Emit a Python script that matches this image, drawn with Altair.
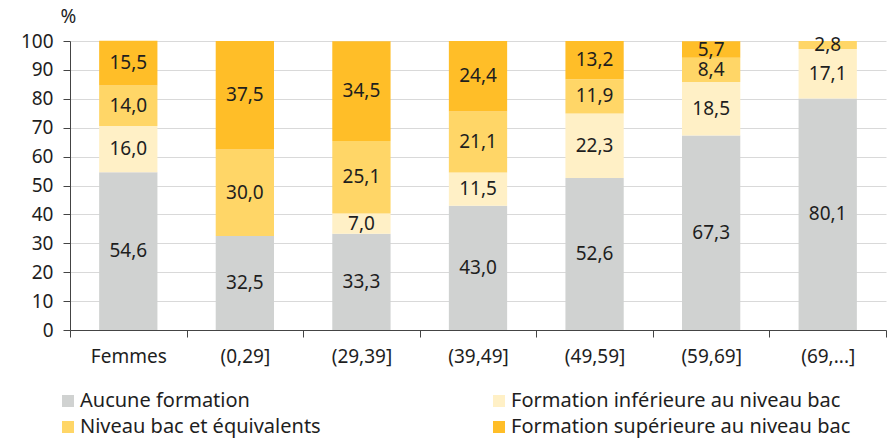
import altair as alt
import pandas as pd

categories = ["Femmes", "(0,29]", "(29,39]", "(39,49]", "(49,59]", "(59,69]", "(69,...]"]
levels = [
    "Aucune formation",
    "Formation inférieure au niveau bac",
    "Niveau bac et équivalents",
    "Formation supérieure au niveau bac",
]
aucune = [54.6, 32.5, 33.3, 43.0, 52.6, 67.3, 80.1]
inferieure = [16.0, 0.0, 7.0, 11.5, 22.3, 18.5, 17.1]
bac = [14.0, 30.0, 25.1, 21.1, 11.9, 8.4, 2.8]
superieure = [15.5, 37.5, 34.5, 24.4, 13.2, 5.7, 0.0]
colors = ["#d0d2d1", "#fff0c6", "#ffd667", "#ffbe28"]

rows = []
for k, (level, series) in enumerate(zip(levels, [aucune, inferieure, bac, superieure])):
    for cat, v in zip(categories, series):
        rows.append({"cat": cat, "level": level, "order": k, "value": v})
df = pd.DataFrame(rows)

FONT = "Noto Sans"
INK = "#1e1e1e"

base = alt.Chart(df).transform_stack(
    stack="value", groupby=["cat"], sort=[{"field": "order", "order": "ascending"}], as_=["y0", "y1"]
).transform_calculate(
    mid="(datum.y0 + datum.y1) / 2",
    label="replace(format(datum.value, '.1f'), '.', ',')",
)

x_axis = alt.Axis(
    title=None, labelAngle=0, labelFontSize=19, labelFont=FONT, labelColor=INK,
    labelPadding=10, tickBand="extent", tickSize=7, tickColor="#444", domainColor="#444",
    grid=False,
)
y_axis = alt.Axis(
    title="%", titleAngle=0, titleX=-2, titleY=-15, titleAlign="center",
    titleFont=FONT, titleFontSize=19, titleFontWeight="normal", titleColor=INK,
    values=list(range(0, 101, 10)), labelFontSize=19, labelFont=FONT, labelColor=INK,
    tickSize=7, tickColor="#444", domainColor="#444", gridColor="#d9d9d9",
    labelPadding=10, labelOverlap=False,
)
x_scale = alt.Scale(paddingInner=0, paddingOuter=0)
y_scale = alt.Scale(domain=[0, 100])

bars = base.mark_bar(width={"band": 0.5}).encode(
    x=alt.X("cat:N", sort=categories, scale=x_scale, axis=x_axis),
    y=alt.Y("y0:Q", scale=y_scale, axis=y_axis),
    y2="y1:Q",
    color=alt.Color(
        "level:N",
        sort=levels,
        scale=alt.Scale(domain=levels, range=colors),
        legend=alt.Legend(
            title=None, orient="none", legendX=-12, legendY=350, columns=2, direction="horizontal",
            symbolType="square", symbolSize=144, symbolStrokeWidth=0, labelFont=FONT,
            labelFontSize=20, labelColor=INK, columnPadding=168, rowPadding=6,
            labelLimit=450, labelOffset=2,
        ),
    ),
    order=alt.Order("order:Q"),
)

texts = base.transform_filter("datum.value > 0").mark_text(
    font=FONT, fontSize=19, color=INK
).encode(
    x=alt.X("cat:N", sort=categories, scale=x_scale, axis=x_axis),
    y=alt.Y("mid:Q", scale=y_scale, axis=y_axis),
    text="label:N",
)

chart = alt.layer(bars, texts).properties(
    width=816, height=289,
    autosize=alt.AutoSizeParams(type="none"),
    padding={"left": 70, "top": 41, "right": 8, "bottom": 109},
).configure_view(stroke=None)

chart.save("out.html", embed_options={"renderer": "svg", "actions": False})
